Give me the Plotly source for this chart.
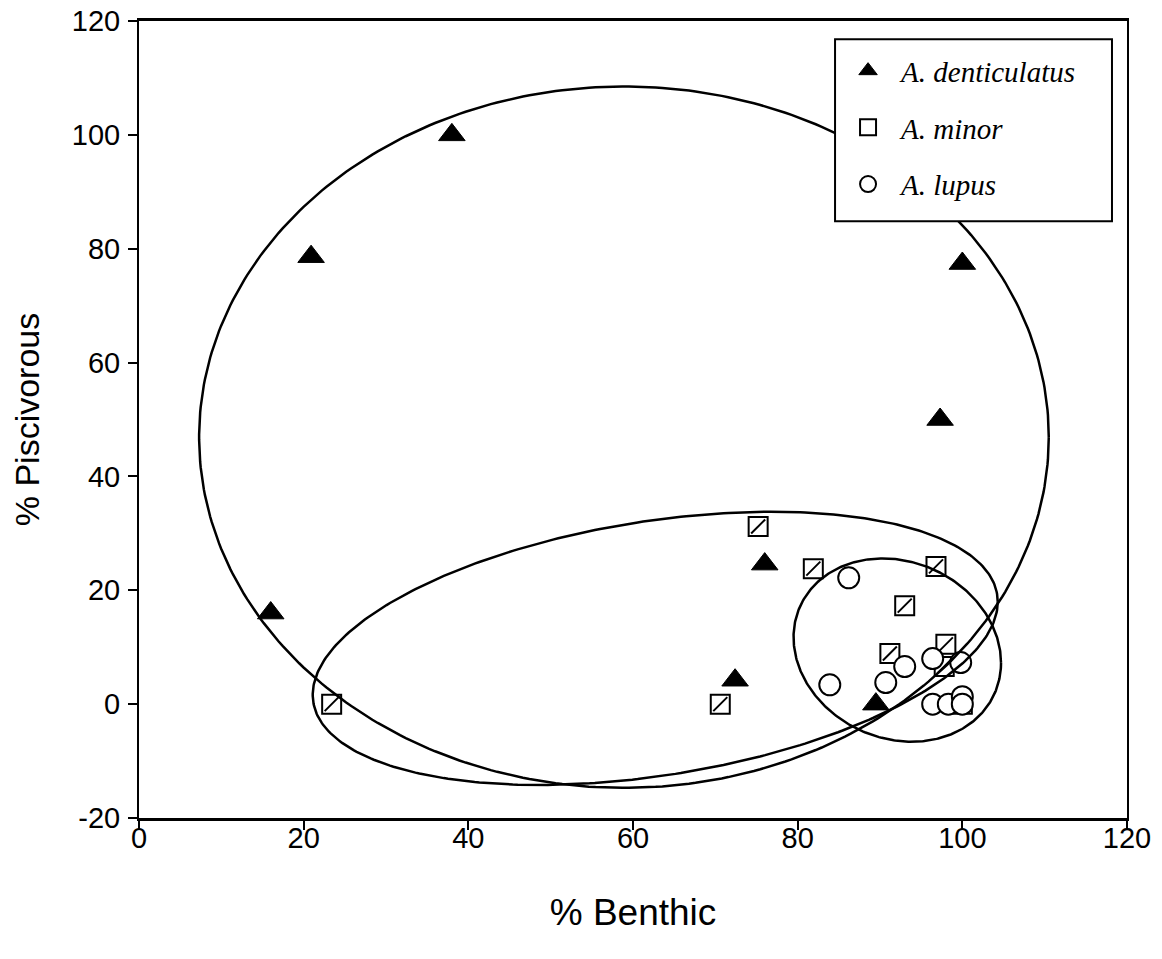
import numpy as np
import plotly.graph_objects as go

# ---- data ----
dent_x = [16.0, 20.9, 38.0, 100.0, 97.3, 76.0, 72.4, 89.5]
dent_y = [16.0, 78.6, 100.0, 77.4, 50.0, 24.6, 4.2, 0.0]

minor_x = [23.4, 70.6, 75.2, 81.9, 96.8, 93.0, 91.2, 98.0, 97.8, 100.0]
minor_y = [0.0, 0.0, 31.2, 23.8, 24.2, 17.3, 8.9, 10.5, 6.6, 0.0]

lupus_x = [86.2, 83.9, 90.7, 93.0, 96.4, 99.8, 96.4, 98.3, 100.0, 100.0]
lupus_y = [22.2, 3.4, 3.8, 6.6, 8.0, 7.3, 0.0, 0.0, 1.3, 0.0]

# ellipse parameters: centre x, centre y, half-width x, half-height y, correlation
ell_cx = [58.9, 62.7, 92.1]
ell_cy = [46.9, 9.8, 9.5]
ell_sx = [51.6, 41.6, 12.6]
ell_sy = [61.6, 24.0, 16.1]
ell_rho = [0.0, 0.34, -0.14]

x_ticks = [0, 20, 40, 60, 80, 100, 120]
x_labels = ["0", "20", "40", "60", "80", "100", "120"]
y_ticks = [-20, 0, 20, 40, 60, 80, 100, 120]
y_labels = ["-20", "0", "20", "40", "60", "80", "100", "120"]

fig = go.Figure()

# A. minor (hatched squares)
fig.add_trace(go.Scatter(
    x=minor_x, y=minor_y, mode="markers",
    name="<i>A. minor</i>",
    legendrank=2, legendgroup="b",
    marker=dict(symbol="square", size=19, color="white",
                line=dict(color="black", width=2))))
fig.add_trace(go.Scatter(
    x=minor_x, y=minor_y, mode="markers", showlegend=False, hoverinfo="skip",
    marker=dict(symbol="line-ne", size=14, color="black",
                line=dict(color="black", width=2))))

# A. lupus (open circles)
fig.add_trace(go.Scatter(
    x=lupus_x, y=lupus_y, mode="markers",
    name="<i>A. lupus</i>",
    legendrank=3, legendgroup="c",
    marker=dict(symbol="circle", size=21, color="white",
                line=dict(color="black", width=2))))

# A. denticulatus (filled triangles)
fig.add_trace(go.Scatter(
    x=dent_x, y=dent_y, mode="markers",
    name="<i>A. denticulatus</i>",
    legendrank=1, legendgroup="a",
    marker=dict(symbol="triangle-up", size=23, color="black",
                line=dict(color="black", width=1))))

# ellipses
t = np.linspace(0, 2 * np.pi, 400)
for cx, cy, sx, sy, r in zip(ell_cx, ell_cy, ell_sx, ell_sy, ell_rho):
    ex = cx + sx * np.cos(t)
    ey = cy + sy * (r * np.cos(t) + np.sqrt(1 - r * r) * np.sin(t))
    fig.add_trace(go.Scatter(x=ex, y=ey, mode="lines", showlegend=False,
                             hoverinfo="skip",
                             line=dict(color="black", width=2.5)))

tickfont = dict(family="Liberation Sans, Arial", size=29, color="black")

# legend frame (white box with black border)
fig.add_shape(type="rect", xref="paper", yref="paper",
              x0=0.7045, x1=0.9848, y0=0.7486, y1=0.9770,
              line=dict(color="black", width=2), fillcolor="white",
              layer="above")

fig.update_layout(
    width=1162, height=959,
    margin=dict(l=139, r=35, t=21, b=141, autoexpand=False),
    paper_bgcolor="white", plot_bgcolor="white",
    xaxis=dict(range=[0, 120], tickvals=x_ticks, ticktext=x_labels,
               automargin=False,
               showline=True, linecolor="black", linewidth=2.5, mirror=True,
               ticks="outside", ticklen=9, tickwidth=1.5, tickcolor="black",
               showgrid=False, zeroline=False, tickfont=tickfont,
               ticklabelstandoff=-17,
               title=dict(text="% Benthic", standoff=47,
                          font=dict(family="Liberation Sans, Arial", size=37, color="black"))),
    yaxis=dict(range=[-20, 120], tickvals=y_ticks, ticktext=y_labels,
               automargin=False,
               showline=True, linecolor="black", linewidth=2, mirror=True,
               ticks="outside", ticklen=9, tickwidth=1.5, tickcolor="black",
               showgrid=False, zeroline=False, tickfont=tickfont,
               ticklabelstandoff=2,
               title=dict(text="% Piscivorous", standoff=22,
                          font=dict(family="Liberation Sans, Arial", size=34, color="black"))),
    legend=dict(x=0.7045, y=0.9695, xanchor="left", yanchor="top",
                borderwidth=0, bgcolor="rgba(0,0,0,0)",
                font=dict(family="Liberation Serif, Times New Roman", size=29, color="black"),
                traceorder="grouped", tracegroupgap=16, itemwidth=56),
    showlegend=True,
)

fig.write_html("out.html")
